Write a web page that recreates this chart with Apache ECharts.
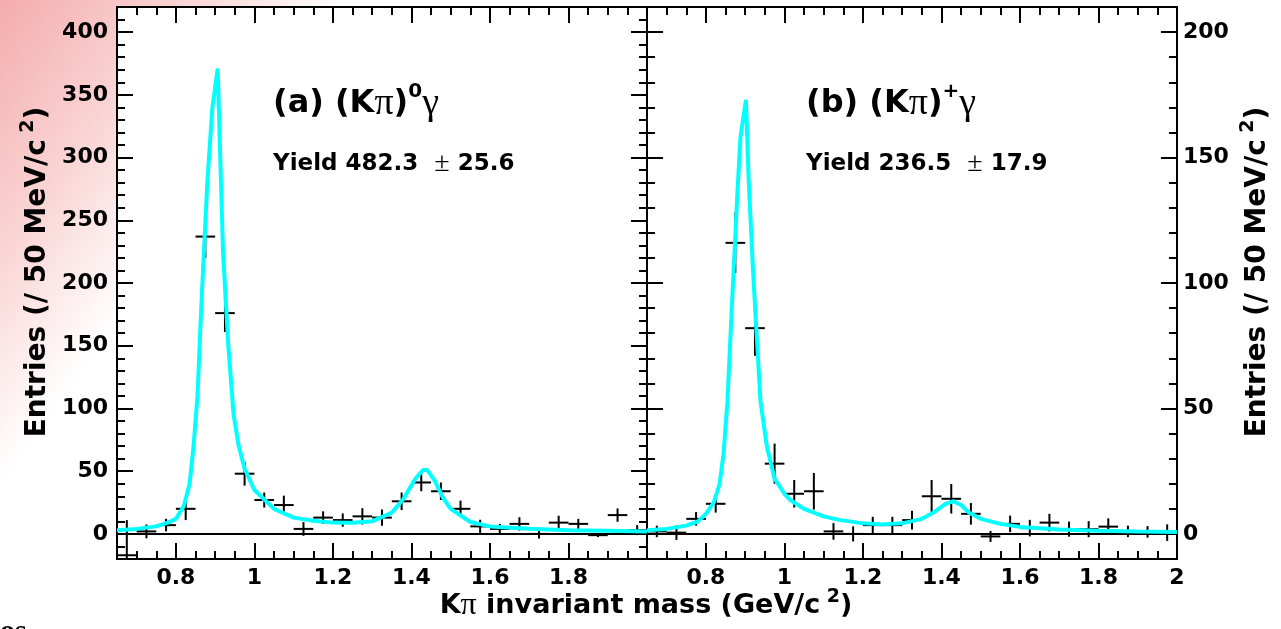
<!DOCTYPE html>
<html>
<head>
<meta charset="UTF-8">
<title>K pi gamma invariant mass</title>
<script src="https://cdn.jsdelivr.net/npm/echarts@6/dist/echarts.min.js"></script>
<style>
  html, body { margin: 0; padding: 0; background: #fff; }
  #chart { width: 1281px; height: 629px; }
</style>
</head>
<body>
<div id="chart"></div>
<script>
// bin centres (50 MeV bins)
const binCenters = [0.675, 0.725, 0.775, 0.825, 0.875, 0.925, 0.975, 1.025, 1.075, 1.125,
  1.175, 1.225, 1.275, 1.325, 1.375, 1.425, 1.475, 1.525, 1.575, 1.625,
  1.675, 1.725, 1.775, 1.825, 1.875, 1.925, 1.975];

// (a) neutral
const entriesA = [-17, 2, 7, 20, 237, 176, 48, 27, 23, 4, 13, 11, 14, 13, 26, 41, 34, 20, 6, 4, 8, 0, 9, 8, -1, 15, 3];
const errorsA = [28, 5.5, 5, 9, 17, 15, 9.5, 6, 7.5, 5.5, 5, 5.3, 6.5, 6.5, 7, 7, 7, 6.5, 5.3, 4, 5.3, 3.7, 5.5, 4, 1.5, 5.3, 4];
// (b) charged
const entriesB = [1, 0.5, 6, 12, 116, 82, 28, 16, 17, 1, 0, 3.5, 3.5, 5.5, 15, 14, 8, -1, 4, 2.3, 4.5, 1.9, 1.9, 2.9, 1, 0.8, 0.5];
const errorsB = [2.3, 2.9, 2.7, 3.5, 12, 11, 8, 5.5, 7.3, 3.3, 3, 3.3, 3.3, 3.7, 6.5, 5.9, 4.3, 2.2, 3.3, 3.3, 3.5, 3, 3.2, 3.3, 2.3, 2.3, 3.3];

// fit curves
const curveXA = [0.65, 0.70, 0.75, 0.78, 0.80, 0.82, 0.835, 0.845, 0.855, 0.866, 0.88, 0.893, 0.9065,
  0.92, 0.9335, 0.947, 0.96, 0.975, 1.0, 1.05, 1.1, 1.15, 1.2, 1.25, 1.3, 1.35, 1.38, 1.41, 1.43,
  1.44, 1.46, 1.48, 1.5, 1.55, 1.6, 1.7, 1.8, 1.9, 2.0];
const curveYA = [3, 4, 6, 9, 12, 22, 40, 70, 110, 190, 280, 340, 371,
  225, 150, 95, 70, 52, 35, 20, 13, 10.5, 9, 8.8, 10, 17, 28, 44, 51,
  51, 42, 29, 20, 9.5, 6, 4.2, 3, 2.5, 2];
const curveXB = [0.65, 0.70, 0.75, 0.78, 0.80, 0.82, 0.835, 0.845, 0.855, 0.866, 0.88, 0.888, 0.902,
  0.909, 0.92, 0.939, 0.955, 0.975, 1.0, 1.015, 1.05, 1.1, 1.14, 1.2, 1.25, 1.3, 1.35, 1.38, 1.41,
  1.43, 1.45, 1.47, 1.5, 1.55, 1.6, 1.7, 1.8, 1.9, 2.0];
const curveYB = [1.5, 2, 3.3, 5, 8, 12.5, 20, 32, 53, 90, 135, 158, 173,
  141, 105, 53, 35, 22, 16, 13.5, 10, 7, 5.6, 4.2, 3.8, 4.2, 6, 8.5, 12,
  13, 11.5, 8.5, 6, 4, 2.8, 1.8, 1.3, 1, 0.8];

const xMajor = [0.8, 1.0, 1.2, 1.4, 1.6, 1.8, 2.0];
const xLabelsA = [0.8, 1.0, 1.2, 1.4, 1.6, 1.8];
const xLabelsB = [0.8, 1.0, 1.2, 1.4, 1.6, 1.8, 2.0];
const yMajorA = [0, 50, 100, 150, 200, 250, 300, 350, 400];
const yMajorB = [0, 50, 100, 150, 200];

const chart = echarts.init(document.getElementById('chart'));

const FONT = 'DejaVu Sans';
const labelStyle = { color: '#000', fontFamily: FONT, fontWeight: 'bold', fontSize: 22 };
const tickLine = { color: '#000', width: 2 };

function xAxes(grid, labels) {
  const base = { type: 'value', gridIndex: grid, min: 0.65, max: 2.0, splitLine: { show: false },
    axisLine: { show: false, onZero: false } };
  return [
    Object.assign({}, base, { position: 'bottom', interval: 0.05,
      axisTick: { inside: true, length: 8, lineStyle: tickLine },
      axisLabel: Object.assign({ customValues: labels, margin: 8,
        formatter: v => String(parseFloat(v.toFixed(2))) }, labelStyle) }),
    Object.assign({}, base, { position: 'bottom',
      axisTick: { inside: true, length: 16, customValues: xMajor, lineStyle: tickLine },
      axisLabel: { show: false } }),
    Object.assign({}, base, { position: 'top', interval: 0.05,
      axisTick: { inside: true, length: 8, lineStyle: tickLine }, axisLabel: { show: false } }),
    Object.assign({}, base, { position: 'top',
      axisTick: { inside: true, length: 16, customValues: xMajor, lineStyle: tickLine },
      axisLabel: { show: false } })
  ];
}

function yAxes(grid, min, max, major, labelSide) {
  const base = { type: 'value', gridIndex: grid, min: min, max: max, splitLine: { show: false },
    axisLine: { show: false, onZero: false } };
  const out = [];
  ['left', 'right'].forEach(side => {
    out.push(Object.assign({}, base, { position: side, interval: 10,
      axisTick: { inside: true, length: 8, lineStyle: tickLine }, axisLabel: { show: false } }));
    out.push(Object.assign({}, base, { position: side,
      axisTick: { inside: true, length: 16, customValues: major, lineStyle: tickLine },
      axisLabel: side === labelSide
        ? Object.assign({ customValues: major, margin: side === 'left' ? 9 : 6 }, labelStyle)
        : { show: false } }));
  });
  return out;
}

function crossItem(params, api) {
  const x = api.value(0), y = api.value(1), e = api.value(2);
  const l = api.coord([x - 0.025, y]), r = api.coord([x + 0.025, y]);
  const t = api.coord([x, y + e]), b = api.coord([x, y - e]);
  const st = { stroke: '#000', lineWidth: 2 };
  return {
    type: 'group',
    children: [
      { type: 'line', shape: { x1: l[0], y1: l[1], x2: r[0], y2: r[1] }, style: st },
      { type: 'line', shape: { x1: t[0], y1: t[1], x2: b[0], y2: b[1] }, style: st }
    ]
  };
}

function pointsSeries(xi, yi, vals, errs) {
  return {
    type: 'custom', xAxisIndex: xi, yAxisIndex: yi, clip: true, z: 3,
    renderItem: crossItem,
    data: binCenters.map((c, i) => [c, vals[i], errs[i]]),
    markLine: { silent: true, symbol: 'none', label: { show: false },
      lineStyle: { color: '#000', width: 2, type: 'solid' }, data: [{ yAxis: 0 }] }
  };
}

function curveSeries(xi, yi, xs, ys) {
  return {
    type: 'line', xAxisIndex: xi, yAxisIndex: yi, showSymbol: false, z: 5, clip: true,
    lineStyle: { color: '#00ffff', width: 4 },
    data: xs.map((x, i) => [x, ys[i]])
  };
}

const bold = { fontFamily: FONT, fontWeight: 'bold', fill: '#000' };
const greek = { fontFamily: 'Liberation Serif', fill: '#000' };

function panelTitle(x, label, charge, yieldText, err) {
  return [
    { type: 'text', x: x, y: 82, style: {
      text: '{b|(' + label + ') (K}{g|π}{b|)}{s|' + charge + '}{g|γ}', verticalAlign: 'top',
      rich: {
        b: Object.assign({ fontSize: 32, lineHeight: 44 }, bold),
        g: Object.assign({ fontSize: 38, lineHeight: 44 }, greek),
        s: Object.assign({ fontSize: 20, lineHeight: 20, verticalAlign: 'top' }, bold)
      } } },
    { type: 'text', x: x, y: 164, style: {
      text: '{b|Yield ' + yieldText + '  }{g|±}{b| ' + err + '}', verticalAlign: 'middle',
      rich: {
        b: Object.assign({ fontSize: 23 }, bold),
        g: Object.assign({ fontSize: 28 }, greek)
      } } }
  ];
}

const yTitleRich = {
  b: Object.assign({ fontSize: 28, lineHeight: 38 }, bold),
  s: Object.assign({ fontSize: 19, lineHeight: 20, verticalAlign: 'top' }, bold)
};

const option = {
  backgroundColor: new echarts.graphic.LinearGradient(0, 0, 230, 165, [
    { offset: 0, color: 'rgb(244,172,172)' },
    { offset: 0.55, color: 'rgb(250,214,214)' },
    { offset: 1, color: 'rgb(255,255,255)' }
  ], true),
  animation: false,
  grid: [
    { left: 117, top: 7, width: 530, height: 552, show: true, backgroundColor: '#fff',
      borderColor: '#000', borderWidth: 2 },
    { left: 647, top: 7, width: 530, height: 552, show: true, backgroundColor: '#fff',
      borderColor: '#000', borderWidth: 2 }
  ],
  xAxis: xAxes(0, xLabelsA).concat(xAxes(1, xLabelsB)),
  yAxis: yAxes(0, -20, 420, yMajorA, 'left').concat(yAxes(1, -10, 210, yMajorB, 'right')),
  series: [
    pointsSeries(0, 0, entriesA, errorsA),
    curveSeries(0, 0, curveXA, curveYA),
    pointsSeries(4, 4, entriesB, errorsB),
    curveSeries(4, 4, curveXB, curveYB)
  ],
  graphic: [].concat(
    panelTitle(273, 'a', '0', '482.3', '25.6'),
    panelTitle(806, 'b', '+', '236.5', '17.9'),
    [
      { type: 'text', x: 38, y: 272, rotation: Math.PI / 2, style: {
        text: '{b|Entries (/ 50 MeV/c}{s| 2}{b|)}', align: 'center', verticalAlign: 'middle', rich: yTitleRich } },
      { type: 'text', x: 1258, y: 272, rotation: Math.PI / 2, style: {
        text: '{b|Entries (/ 50 MeV/c}{s| 2}{b|)}', align: 'center', verticalAlign: 'middle', rich: yTitleRich } },
      { type: 'text', x: 646, y: 606, style: {
        text: '{b|K}{g|π}{b| invariant mass (GeV/c}{s| 2}{b|)}', align: 'center', verticalAlign: 'middle',
        rich: {
          b: Object.assign({ fontSize: 27, lineHeight: 36 }, bold),
          g: Object.assign({ fontSize: 32, lineHeight: 36 }, greek),
          s: Object.assign({ fontSize: 19, lineHeight: 20, verticalAlign: 'top' }, bold)
        } } },
      { type: 'text', x: 0, y: 617, style: { text: 'os', fontFamily: 'Liberation Serif',
        fontWeight: 'bold', fontSize: 30, fill: '#000', verticalAlign: 'top' } }
    ]
  )
};

chart.setOption(option);
</script>
</body>
</html>
